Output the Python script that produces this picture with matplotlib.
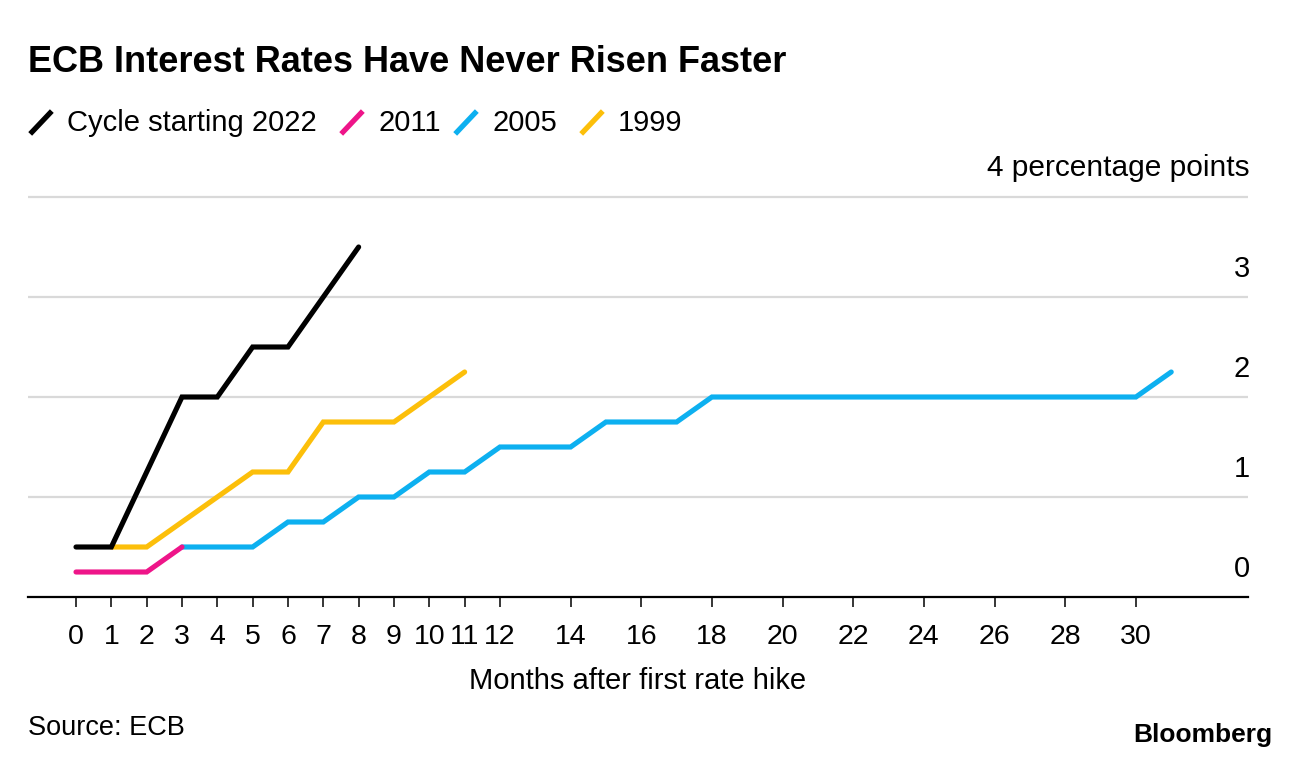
import matplotlib
matplotlib.use("Agg")
import matplotlib.pyplot as plt
from matplotlib.lines import Line2D

plt.rcParams['font.family'] = ['Liberation Sans', 'DejaVu Sans']

# Data
x_2022 = [0, 1, 3, 4, 5, 6, 8]
y_2022 = [0.5, 0.5, 2.0, 2.0, 2.5, 2.5, 3.5]
x_2011 = [0, 2, 3]
y_2011 = [0.25, 0.25, 0.5]
x_2005 = [3, 5, 6, 7, 8, 9, 10, 11, 12, 14, 15, 17, 18, 30, 31]
y_2005 = [0.5, 0.5, 0.75, 0.75, 1.0, 1.0, 1.25, 1.25, 1.5, 1.5, 1.75, 1.75, 2.0, 2.0, 2.25]
x_1999 = [1, 2, 4, 5, 6, 7, 9, 11]
y_1999 = [0.5, 0.5, 1.0, 1.25, 1.25, 1.75, 1.75, 2.25]
x_ticks = list(range(0, 13)) + list(range(14, 31, 2))
y_ticks = [0, 1, 2, 3, 4]
labels = ['Cycle starting 2022', '2011', '2005', '1999']
colors = ['#000000', '#ee1589', '#0db0f0', '#fcbf0a']

W, H = 1296, 768
fig = plt.figure(figsize=(W / 100, H / 100), dpi=100)
ax_left, ax_right = 28, 1248
ax_bottom = 597
ymax = 4.1
ax_top = ax_bottom - ymax * 100
ax = fig.add_axes([ax_left / W, 1 - ax_bottom / H, (ax_right - ax_left) / W, (ax_bottom - ax_top) / H])

xl0 = -48 / 35.33
xl1 = (ax_right - 76) / 35.33
ax.set_xlim(xl0, xl1)
ax.set_ylim(0, ymax)

for yv in y_ticks[1:]:
    ax.axhline(yv, color='#d9d9d9', lw=1.6, zorder=1)

lw = 3.7
ax.plot(x_1999, y_1999, color=colors[3], lw=lw, solid_capstyle='round', solid_joinstyle='miter', zorder=3)
ax.plot(x_2005, y_2005, color=colors[2], lw=lw, solid_capstyle='round', solid_joinstyle='miter', zorder=3)
ax.plot(x_2011, y_2011, color=colors[1], lw=lw, solid_capstyle='round', solid_joinstyle='miter', zorder=4)
ax.plot(x_2022, y_2022, color=colors[0], lw=lw, solid_capstyle='round', solid_joinstyle='miter', zorder=5)

for s in ['top', 'right', 'left']:
    ax.spines[s].set_visible(False)
ax.spines['bottom'].set_linewidth(1.6)
ax.spines['bottom'].set_color('black')
ax.set_xticks(x_ticks)
ax.set_xticklabels([str(t) for t in x_ticks], fontsize=20.5)
ax.tick_params(axis='x', length=7.5, width=1.1, pad=12, colors='black')
ax.set_yticks([])

# y labels (right, above gridlines)
for yv in y_ticks[:-1]:
    ax.text(1250 / W, 1 - (ax_bottom - yv * 100 - 28) / H, str(yv), transform=fig.transFigure,
            ha='right', va='center', fontsize=21)
fig.text(1250 / W, 1 - 168 / H, '4 percentage points', ha='right', va='center', fontsize=21.5)

ax.set_xlabel('Months after first rate hike', fontsize=21, labelpad=12)

fig.text(28 / W, 1 - 62 / H, 'ECB Interest Rates Have Never Risen Faster', ha='left', va='center',
         fontsize=26, fontweight='bold')

# legend
leg_x = [32, 343, 457, 583]
for lx, lab, c in zip(leg_x, labels, colors):
    fig.add_artist(Line2D([lx / W, (lx + 18) / W], [1 - 132 / H, 1 - 113 / H], color=c, lw=3.8,
                          transform=fig.transFigure))
    fig.text((lx + 35) / W, 1 - 123 / H, lab, ha='left', va='center', fontsize=21)

fig.text(28 / W, 1 - 728 / H, 'Source: ECB', ha='left', va='center', fontsize=19.5)
fig.text(1272 / W, 1 - 735 / H, 'Bloomberg', ha='right', va='center', fontsize=19, fontweight='bold')

fig.savefig('out.png', dpi=100)
